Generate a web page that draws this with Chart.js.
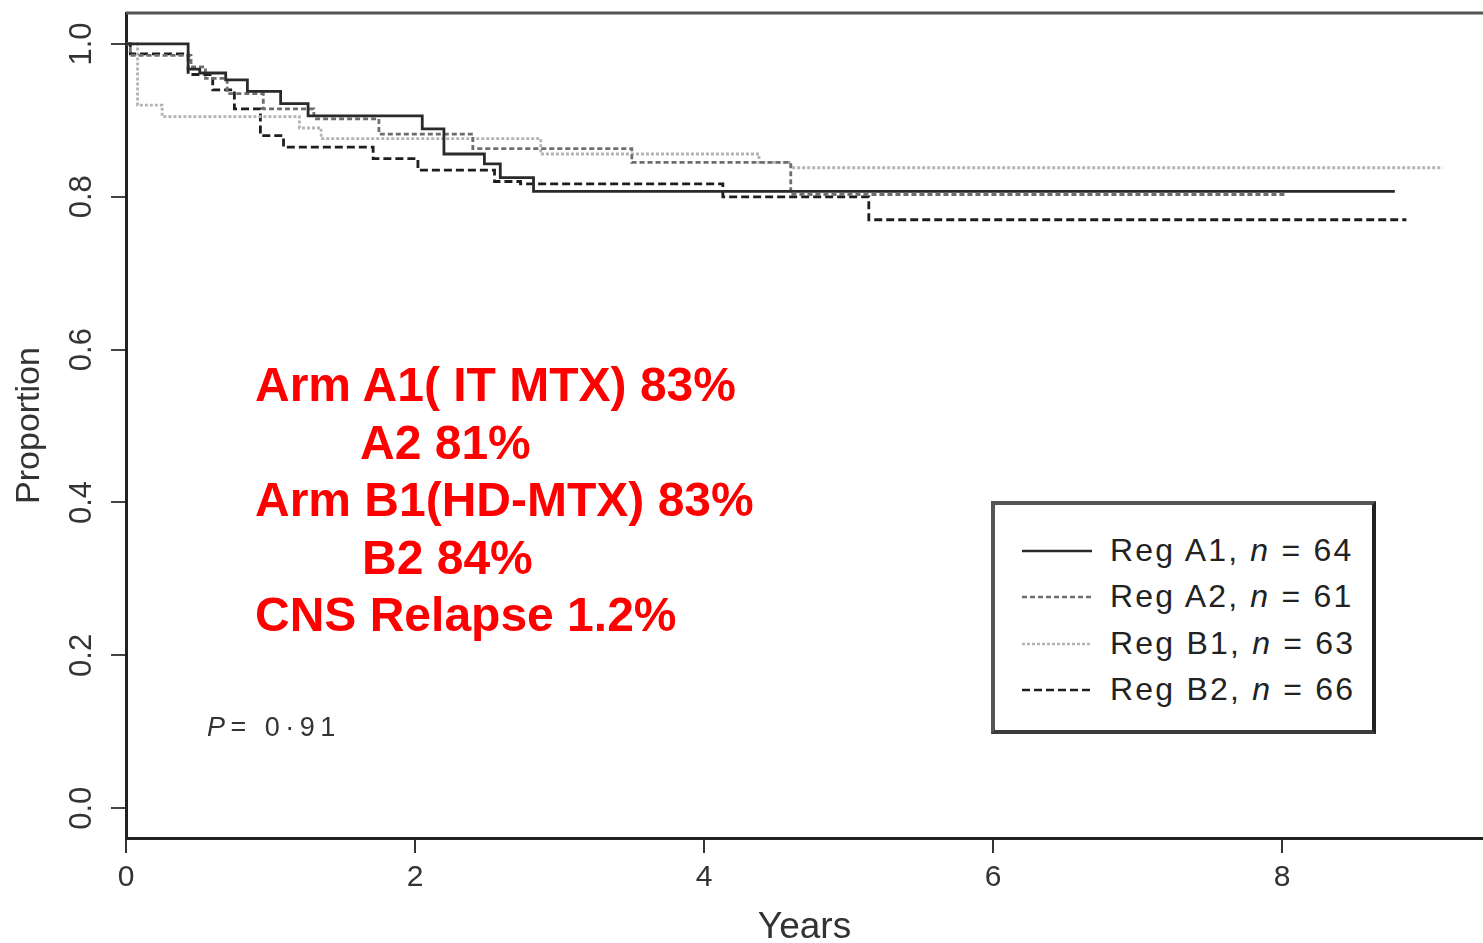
<!DOCTYPE html>
<html>
<head>
<meta charset="utf-8">
<script src="https://cdn.jsdelivr.net/npm/chart.js@4.4.1/dist/chart.umd.min.js"></script>
<style>
  body { margin: 0; background: #fff; }
  #wrap { position: relative; width: 1483px; height: 943px; }
  #note { position: absolute; left: 255px; top: 356px; font: bold 48px "Liberation Sans", Arial, sans-serif; color: #ff0000; line-height: 57.5px; white-space: pre; }
  #note .ind1 { padding-left: 105px; }
  #note .ind2 { padding-left: 107px; }
  #pval { position: absolute; left: 207px; top: 712px; font: 27px "Liberation Sans", Arial, sans-serif; color: #333; letter-spacing: 5.5px; white-space: pre; }
  #legend { position: absolute; left: 991px; top: 501px; width: 377px; height: 225px; border: 4px solid #555; border-right-color: #222; border-bottom-color: #3a3a3a; background: #fff; }
  .row { position: absolute; left: 0; height: 40px; }
  .row svg { position: absolute; left: 27px; top: 18px; }
  .row span { position: absolute; left: 115px; top: 0; font: 32px "Liberation Sans", Arial, sans-serif; color: #222; letter-spacing: 2.2px; white-space: pre; line-height: 40px; }
</style>
</head>
<body>
<div id="wrap">
  <canvas id="km"></canvas>
  <div id="note"><div>Arm A1( IT MTX) 83%</div><div class="ind1">A2 81%</div><div>Arm B1(HD-MTX) 83%</div><div class="ind2">B2 84%</div><div>CNS Relapse 1.2%</div></div>
  <div id="pval"><i>P</i>= 0·91</div>
  <div id="legend"></div>
</div>
<script>
// survival curves (years, proportion)
const a1Time = [0, 0.43, 0.51, 0.69, 0.84, 1.07, 1.26, 2.05, 2.20, 2.48, 2.59, 2.82, 8.78];
const a1Surv = [1.0, 0.967, 0.962, 0.953, 0.938, 0.922, 0.906, 0.889, 0.856, 0.843, 0.825, 0.807, 0.807];

const a2Time = [0, 0.03, 0.45, 0.55, 0.70, 0.95, 1.30, 1.75, 2.40, 3.50, 4.60, 8.02];
const a2Surv = [1.0, 0.985, 0.970, 0.955, 0.935, 0.915, 0.902, 0.882, 0.863, 0.845, 0.803, 0.803];

const b1Time = [0, 0.08, 0.25, 1.20, 1.35, 2.87, 4.38, 4.60, 9.11];
const b1Surv = [1.0, 0.920, 0.905, 0.890, 0.876, 0.856, 0.845, 0.838, 0.838];

const b2Time = [0, 0.03, 0.43, 0.60, 0.75, 0.93, 1.09, 1.71, 2.02, 2.55, 2.73, 4.13, 5.14, 8.86];
const b2Surv = [1.0, 0.987, 0.960, 0.940, 0.915, 0.880, 0.865, 0.850, 0.835, 0.820, 0.817, 0.800, 0.770, 0.770];

const legendLabels = ['Reg A1', 'Reg A2', 'Reg B1', 'Reg B2'];
const legendN = [64, 61, 63, 66];

const xTicks = [0, 2, 4, 6, 8];
const yTicks = [0, 0.2, 0.4, 0.6, 0.8, 1.0];

const styles = [
  { color: '#2a2a2a', dash: [], width: 2.8 },
  { color: '#6e6e6e', dash: [5, 3], width: 2.8 },
  { color: '#b4b4b4', dash: [3, 2], width: 2.8 },
  { color: '#1e1e1e', dash: [8, 4], width: 2.8 }
];

const pts = (t, s) => t.map((v, i) => ({ x: v, y: s[i] }));
const series = [pts(a1Time, a1Surv), pts(a2Time, a2Surv), pts(b1Time, b1Surv), pts(b2Time, b2Surv)];

const sans = '"Liberation Sans", Arial, sans-serif';

// top frame line
const framePlugin = {
  id: 'frame',
  afterDraw(chart) {
    const { ctx, chartArea } = chart;
    ctx.save();
    ctx.strokeStyle = '#555';
    ctx.lineWidth = 3;
    ctx.beginPath();
    ctx.moveTo(chartArea.left, chartArea.top);
    ctx.lineTo(chartArea.right, chartArea.top);
    ctx.stroke();
    ctx.restore();
  }
};

const canvas = document.getElementById('km');
canvas.width = 1483; canvas.height = 943;

new Chart(canvas.getContext('2d'), {
  type: 'line',
  data: {
    datasets: series.map((d, i) => ({
      label: legendLabels[i],
      data: d,
      stepped: true,
      borderColor: styles[i].color,
      borderDash: styles[i].dash,
      borderWidth: styles[i].width,
      pointRadius: 0,
      fill: false
    }))
  },
  options: {
    responsive: false,
    animation: false,
    layout: { padding: { top: 13, left: 0, right: 0, bottom: 0 } },
    plugins: { legend: { display: false }, tooltip: { enabled: false } },
    scales: {
      x: {
        type: 'linear',
        min: 0,
        max: 9.39,
        afterBuildTicks: s => { s.ticks = xTicks.map(v => ({ value: v })); },
        afterFit: s => { s.height = 105; s.paddingLeft = 0; s.paddingRight = 0; },
        grid: { drawOnChartArea: false, tickLength: 15, color: '#333', lineWidth: 2 },
        border: { color: '#222', width: 3 },
        ticks: { font: { size: 30, family: sans }, color: '#333', padding: 7, maxRotation: 0, autoSkip: false },
        title: { display: true, text: 'Years', font: { size: 37, family: sans, lineHeight: 0.8 }, color: '#333', padding: { top: 0, bottom: 0 } }
      },
      y: {
        type: 'linear',
        min: -0.039,
        max: 1.0405,
        afterBuildTicks: s => { s.ticks = yTicks.map(v => ({ value: v })); },
        afterFit: s => { s.width = 126; s.paddingTop = 0; s.paddingBottom = 0; },
        grid: { drawOnChartArea: false, tickLength: 15, color: '#444', lineWidth: 2 },
        border: { color: '#222', width: 3 },
        ticks: {
          font: { size: 31, family: sans }, color: '#333', padding: 7,
          minRotation: 90, maxRotation: 90, crossAlign: 'center', autoSkip: false,
          callback: v => v.toFixed(1)
        },
        title: { display: true, text: 'Proportion', font: { size: 34, family: sans, lineHeight: 1 }, color: '#333', padding: { top: 13, bottom: 0 } }
      }
    }
  },
  plugins: [framePlugin]
});

// legend box
const legend = document.getElementById('legend');
const rowTops = [25, 71, 118, 164];
legendLabels.forEach((lab, i) => {
  const row = document.createElement('div');
  row.className = 'row';
  row.style.top = rowTops[i] + 'px';
  const st = styles[i];
  row.innerHTML = '<svg width="72" height="6"><line x1="0" y1="3" x2="70" y2="3" stroke="' + st.color +
    '" stroke-width="2.5" stroke-dasharray="' + (st.dash.length ? st.dash.join(',') : 'none') + '"/></svg>' +
    '<span>' + lab + ', <i>n</i> = ' + legendN[i] + '</span>';
  legend.appendChild(row);
});
</script>
</body>
</html>
